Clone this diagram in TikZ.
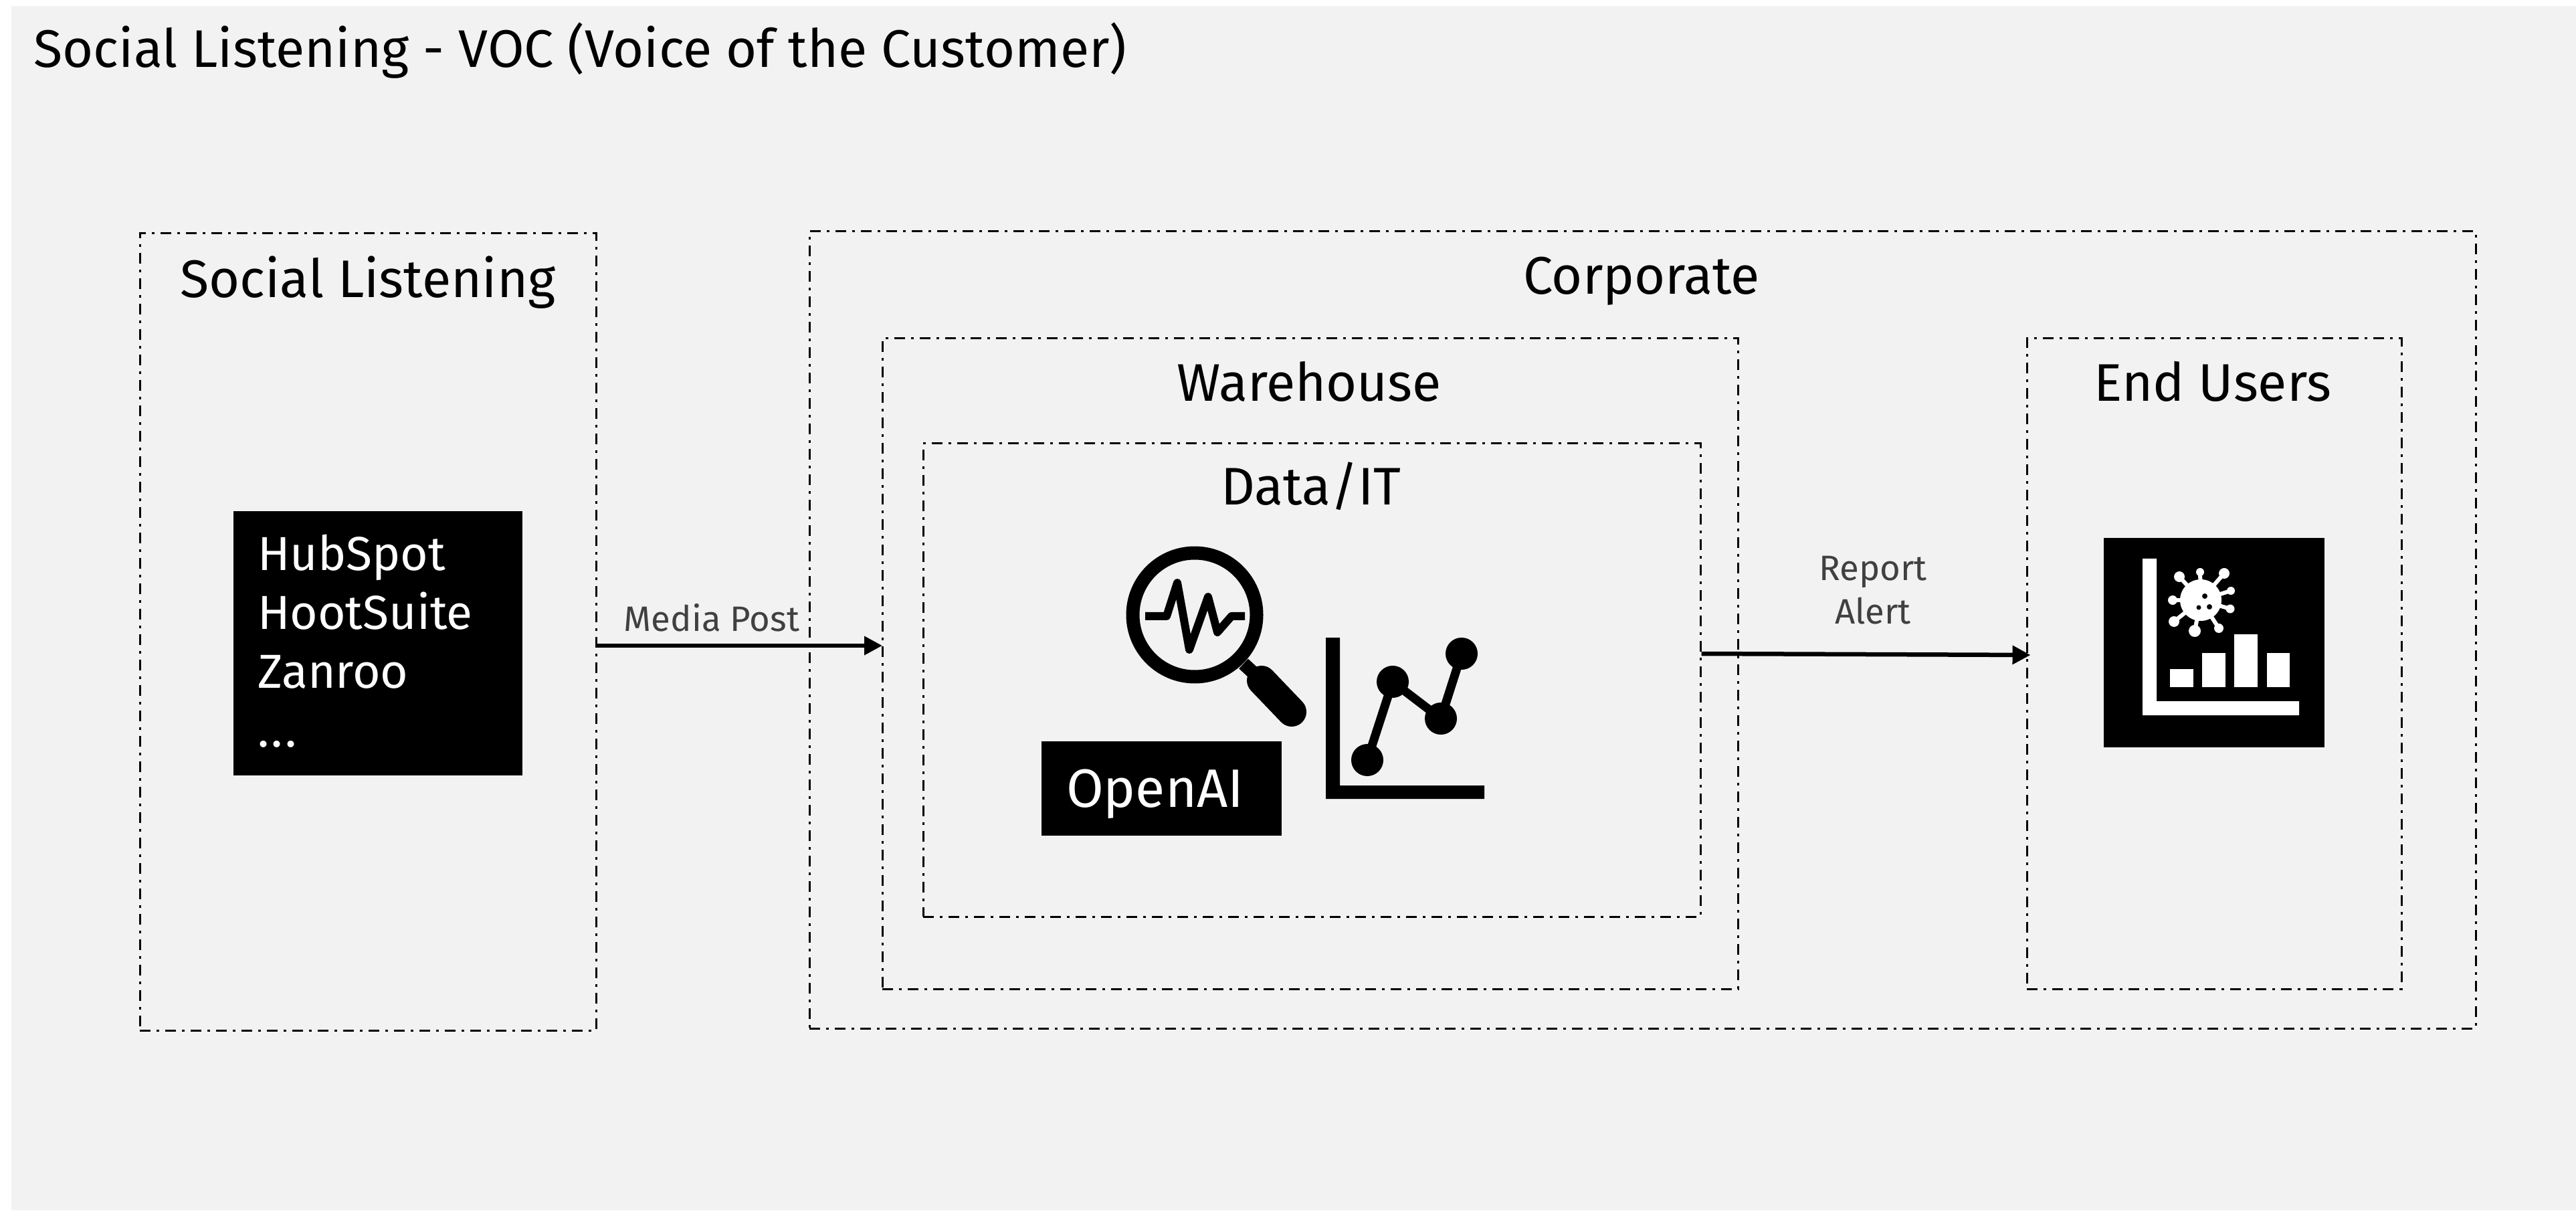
\documentclass[tikz,border=0pt]{standalone}
\usepackage{fontspec}
\setmainfont{Fira Sans}
\definecolor{panelgray}{HTML}{F2F2F2}
\definecolor{labelgray}{HTML}{404040}
\usetikzlibrary{arrows.meta}
\begin{document}
\begin{tikzpicture}[
        % Common styles
        frame/.style={
            rectangle, draw=black, line width=0.03cm,
            dash pattern=on 0.16cm off 0.09cm on 0.04cm off 0.09cm
        },
        title/.style={font=\fontsize{22.5}{26}\selectfont, text=black, inner sep=0pt},
        blackbox/.style={
            rectangle, fill=black, text=white, inner sep=0pt,
            font=\fontsize{20.3}{25}\selectfont
        },
        note/.style={font=\fontsize{15}{18.5}\selectfont, text=labelgray, align=center, inner sep=0pt},
        arr/.style={-{Triangle[length=0.27cm,width=0.27cm]}, line width=0.065cm, draw=black},
        icon/.style={line width=#1, draw=black, line cap=round, line join=round}
    ]
        % Page and background panel
        \useasboundingbox (0,0) rectangle (38.51,18.09);
        \fill[panelgray] (0.17,0) rectangle (38.51,18.00);
        \node[title, anchor=west] (heading) at (0.50,17.33) {Social Listening - VOC (Voice of the Customer)};

        % Dashed frames
        \node[frame, minimum width=6.82cm, minimum height=11.91cm] (social) at (5.50,8.645) {};
        \node[frame, minimum width=24.91cm, minimum height=11.91cm] (corp) at (24.555,8.675) {};
        \node[frame, minimum width=12.79cm, minimum height=9.72cm] (house) at (19.585,8.17) {};
        \node[frame, minimum width=11.62cm, minimum height=7.07cm] (data) at (19.61,7.925) {};
        \node[frame, minimum width=5.60cm, minimum height=9.72cm] (users) at (33.10,8.17) {};

        % Frame titles
        \node[title] (socialtitle) at (5.50,13.87) {Social Listening};
        \node[title] (corptitle) at (24.54,13.89) {Corporate};
        \node[title] (housetitle) at (19.57,12.39) {Warehouse};
        \node[title] (datatitle) at (19.60,10.82) {Data/IT};
        \node[title] (userstitle) at (33.08,12.39) {End Users};

        % Black boxes
        \node[blackbox, minimum width=4.32cm, minimum height=3.95cm, text width=3.60cm, align=left] (tools) at (5.65,8.475) {HubSpot\\HootSuite\\Zanroo\\.\kern1pt.\kern1pt.\rule[-0.08cm]{0pt}{0.08cm}};
        \node[blackbox, font=\fontsize{23}{27}\selectfont, minimum width=3.59cm, minimum height=1.41cm, text width=2.85cm, text depth=0pt, align=left] (openai) at (17.365,6.305) {OpenAI};
        \node[blackbox, minimum width=3.30cm, minimum height=3.13cm] (report) at (33.10,8.485) {};

        % Magnifier
        \draw[icon=0.20cm] (17.86,8.90) circle (0.925);
        \draw[icon=0.20cm, line cap=butt] (18.59,8.17) -- (18.86,7.92);
        \draw[icon=0.44cm] (18.86,7.92) -- (19.31,7.45);
        \draw[icon=0.12cm, line cap=butt] (17.12,8.88) -- (17.44,8.88) -- (17.60,9.38) -- (17.78,8.38) -- (18.06,9.17) -- (18.20,8.64) -- (18.41,8.88) -- (18.61,8.88);

        % Line chart
        \fill (19.82,8.56) -- (20.03,8.56) -- (20.03,6.35) -- (22.19,6.35) -- (22.19,6.15) -- (19.82,6.15) -- cycle;
        \draw[icon=0.13cm] (20.44,6.73) -- (20.82,7.90) -- (21.54,7.35) -- (21.85,8.32);
        \fill (20.44,6.73) circle (0.24) (20.82,7.90) circle (0.24) (21.54,7.35) circle (0.24) (21.85,8.32) circle (0.24);

        % Report icon
        \fill[white] (32.03,9.74) -- (32.24,9.74) -- (32.24,7.61) -- (34.37,7.61) -- (34.37,7.40) -- (32.03,7.40) -- cycle;
        \fill[white] (32.44,7.82) rectangle (32.79,8.09);
        \fill[white] (32.92,7.82) rectangle (33.27,8.33);
        \fill[white] (33.40,7.82) rectangle (33.75,8.61);
        \fill[white] (33.89,7.82) rectangle (34.23,8.33);
        \fill[white] (32.90,9.12) circle (0.31);
        \foreach \tipx/\tipy/\tipr in {32.58/9.47/0.08, 32.89/9.54/0.06, 33.25/9.52/0.08, 33.35/9.26/0.06, 33.34/8.99/0.065, 33.17/8.70/0.07, 32.81/8.66/0.09, 32.50/8.80/0.08, 32.48/9.12/0.07}{
            \draw[white, line width=0.06cm] (32.90,9.12) -- (\tipx,\tipy);
            \fill[white] (\tipx,\tipy) circle (\tipr);
        }
        \fill (32.96,9.18) circle (0.04) (32.87,9.01) circle (0.035) (33.03,9.02) circle (0.04);

        % Connectors
        \draw[arr] ([yshift=-0.205cm]social.east) -- ([xshift=0.015cm,yshift=0.27cm]house.west);
        \node[note] (media) at (10.64,8.86) {Media Post};
        \draw[arr] ([yshift=0.395cm]data.east) -- ([xshift=0.07cm,yshift=0.13cm]users.west);
        \node[note] (alert) at (28.00,9.27) {Report\\Alert};
    \end{tikzpicture}
\end{document}
